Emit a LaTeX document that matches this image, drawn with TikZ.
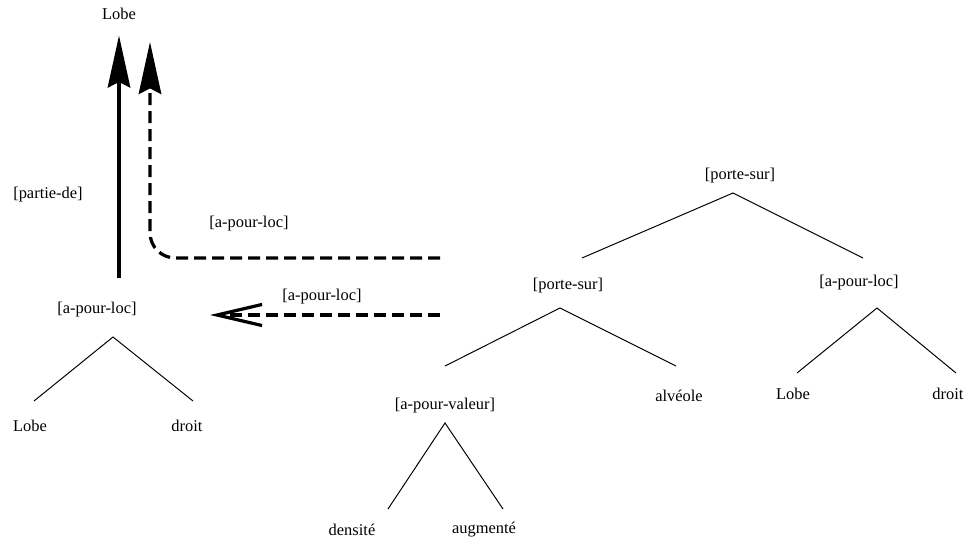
\documentclass[tikz,border=0pt]{standalone}
\usepackage{fontspec}
\setmainfont{Liberation Serif}
\usetikzlibrary{arrows.meta,positioning,calc}

\begin{document}
\begin{tikzpicture}[
    x=0.025cm,
    y=-0.025cm,
    label/.style={
        inner sep=0pt,
        font=\fontsize{11.7}{14}\selectfont
    },
    branch/.style={
        draw,
        line width=0.7pt
    },
    link/.style={
        draw,
        line width=2.3pt,
        -{Stealth[length=37pt,width=16pt,inset=4pt]}
    },
    dashlink/.style={
        link,
        dash pattern=on 8.5pt off 4.3pt,
        rounded corners=18pt
    },
    openlink/.style={
        draw,
        line width=2.3pt,
        dash pattern=on 8.5pt off 4.3pt,
        -{Straight Barb[length=32pt,width=15pt]}
    }
]
\useasboundingbox (0,0) rectangle (968,546);

% Nodes
\node [label] (lobetop) at (119,14) {Lobe};
\node [label] (partie) at (48,195) {[partie-de]};
\node [label] (loc1) at (249,224) {[a-pour-loc]};
\node [label] (loc2) at (322,297) {[a-pour-loc]};

\node [label] (lroot) at (97,310) {[a-pour-loc]};
\node [label] (llobe) at (30,426) {Lobe};
\node [label] (ldroit) at (187,426) {droit};

\node [label] (root) at (740,176) {[porte-sur]};
\node [label] (ps) at (568,286) {[porte-sur]};
\node [label] (rloc) at (859,283) {[a-pour-loc]};
\node [label] (val) at (445,406) {[a-pour-valeur]};
\node [label] (alv) at (679,396) {alvéole};
\node [label] (rlobe) at (793,394) {Lobe};
\node [label] (rdroit) at (948,394) {droit};
\node [label] (dens) at (352,530) {densité};
\node [label] (augm) at (484,530) {augmenté};

% Branch points
\coordinate (lroot-top) at (113,337);
\coordinate (llobe-end) at (34,401);
\coordinate (ldroit-end) at (193,401);
\coordinate (root-top) at (733,193);
\coordinate (ps-end) at (582,258);
\coordinate (rloc-end) at (863,258);
\coordinate (ps-top) at (560,308);
\coordinate (val-end) at (445,366);
\coordinate (alv-end) at (676,366);
\coordinate (rloc-top) at (877,308);
\coordinate (rlobe-end) at (797,373);
\coordinate (rdroit-end) at (956,373);
\coordinate (val-top) at (445,423);
\coordinate (dens-end) at (388,509);
\coordinate (augm-end) at (503,509);

% Arrow ends
\coordinate (solidfoot) at (119,278);
\coordinate (dashstart) at (440,258);
\coordinate (dashbend) at (150,258);
\coordinate (dashtip) at (150,42);
\coordinate (openstart) at (440,315);
\coordinate (opentip) at (210,315);

% Edges
\path [branch] (llobe-end) -- (lroot-top) -- (ldroit-end);
\path [branch] (ps-end) -- (root-top) -- (rloc-end);
\path [branch] (val-end) -- (ps-top) -- (alv-end);
\path [branch] (rlobe-end) -- (rloc-top) -- (rdroit-end);
\path [branch] (dens-end) -- (val-top) -- (augm-end);

\path [link, shorten >=11pt] (solidfoot) -- (lobetop.south);
\path [dashlink] (dashstart) -- (dashbend) -- (dashtip);
\path [openlink] (openstart) -- (opentip);

\end{tikzpicture}
\end{document}
